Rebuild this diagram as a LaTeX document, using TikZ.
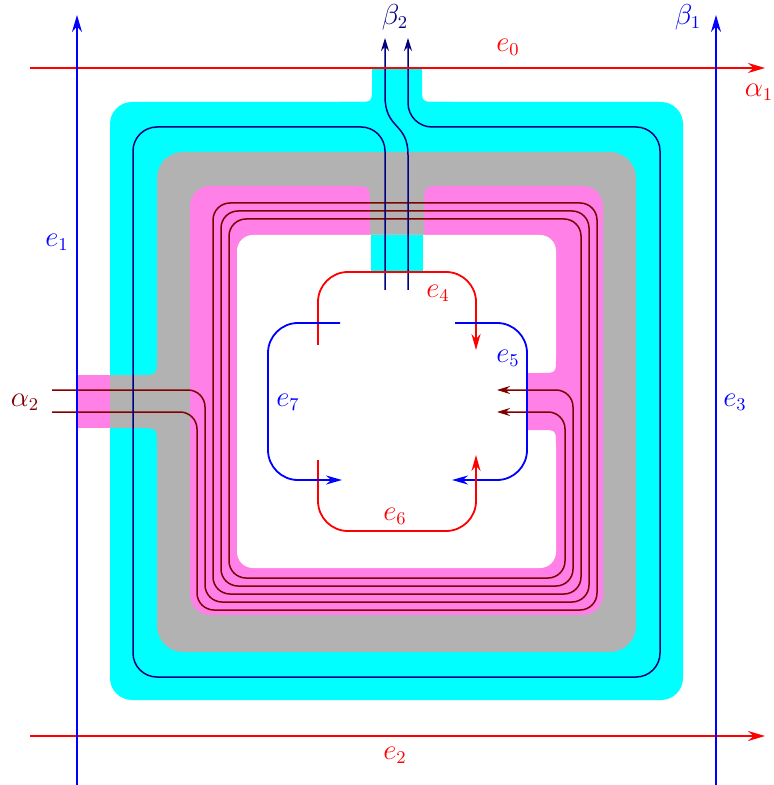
\documentclass[tikz,border=0pt]{standalone}
\usepackage{tikz}
\usetikzlibrary{arrows.meta}
\definecolor{navy}{RGB}{0,0,128}
\definecolor{maroon}{RGB}{128,0,0}
\definecolor{pinkband}{RGB}{255,128,230}
\definecolor{aqua}{RGB}{0,255,255}

\begin{document}
\begin{tikzpicture}[x=0.5pt, y=-0.5pt,
	axisline/.style={line width=1pt, -{Stealth[length=8.5pt, width=5pt]}},
	strand/.style={line width=0.75pt, maroon, rounded corners=8.5pt, -{Stealth[length=6.5pt, width=4pt]}},
	ribbon/.style={line width=0.75pt, navy, rounded corners=12pt, -{Stealth[length=6.5pt, width=4pt]}},
	loopline/.style={line width=0.9pt, rounded corners=15pt, -{Stealth[length=8pt, width=4.5pt]}},
	lbl/.style={font=\fontsize{13.5}{16}\selectfont}
	]
	\useasboundingbox (0,0) rectangle (774,785);
	
	% cyan band with its top neck
	\fill[aqua, rounded corners=11pt] (110,102) rectangle (683,700);
	\fill[aqua] (340,110) -- (340,102) -- (357,102) .. controls (372,102) .. (372,87) -- (372,68)
	-- (422,68) -- (422,87) .. controls (422,102) .. (437,102) -- (454,102) -- (454,110) -- cycle;
	
	% gray band with its left neck
	\fill[black!30, rounded corners=13pt] (157,152) rectangle (636,652);
	\fill[black!30] (110,375) -- (140,375) .. controls (157,375) .. (157,358) -- (165,358)
	-- (165,445) -- (157,445) .. controls (157,428) .. (140,428) -- (110,428) -- cycle;
	
	% pink band, gap on top, notch on the right
	\fill[pinkband, rounded corners=10pt] (190,186) rectangle (603,615);
	\fill[pinkband] (77,375) rectangle (110,428);
	\fill[black!30] (352,180) -- (352,186) .. controls (370,186) .. (370,204) -- (370,235)
	-- (424,235) -- (424,204) .. controls (424,186) .. (442,186) -- (442,180) -- cycle;
	\fill[white, rounded corners=8pt] (237,235) rectangle (556,568);
	\fill[pinkband] (527,373) -- (541,373) .. controls (556,373) .. (556,358) -- (560,358)
	-- (560,445) -- (556,445) .. controls (556,430) .. (541,430) -- (527,430) -- cycle;
	\fill[aqua] (371,235) rectangle (423,272);
	
	% alpha_2 spiral
	\draw[strand] (52,412) -- (197,412) -- (197,610) -- (597,610) -- (597,203) -- (213,203)
	-- (213,594) -- (581,594) -- (581,219) -- (229,219) -- (229,578) -- (565,578) -- (565,412) -- (497,412);
	\draw[strand] (52,390) -- (205,390) -- (205,602) -- (589,602) -- (589,211) -- (221,211)
	-- (221,586) -- (573,586) -- (573,390) -- (497,390);
	
	% beta_2 ribbon
	\draw[ribbon] (385,290) -- (385,127) -- (133,127) -- (133,677) -- (660,677) -- (660,127)
	-- (408,127) -- (408,38);
	\draw[ribbon, sharp corners] (408,290) -- (408,155) .. controls (408,122) and (385,130) .. (385,96) -- (385,38);
	
	% inner loops
	\draw[loopline, red] (318,345) -- (318,272) -- (476,272) -- (476,350);
	\draw[loopline, blue] (455,323) -- (527,323) -- (527,480) -- (452,480);
	\draw[loopline, red] (318,460) -- (318,531) -- (476,531) -- (476,455);
	\draw[loopline, blue] (340,323) -- (268,323) -- (268,480) -- (342,480);
	
	% outer frame
	\draw[axisline, red] (30,68) -- (765,68);
	\draw[axisline, red] (30,736) -- (765,736);
	\draw[axisline, blue] (77,785) -- (77,15);
	\draw[axisline, blue] (716,785) -- (716,15);
	
	\node[lbl, red] (e0) at (508,47) {$e_0$};
	\node[lbl, blue] (e1) at (57,242) {$e_1$};
	\node[lbl, red] (e2) at (395,755) {$e_2$};
	\node[lbl, blue] (e3) at (735,402) {$e_3$};
	\node[lbl, red] (e4) at (438,293) {$e_4$};
	\node[lbl, blue] (e5) at (508,358) {$e_5$};
	\node[lbl, red] (e6) at (395,516) {$e_6$};
	\node[lbl, blue] (e7) at (288,402) {$e_7$};
	\node[lbl, red] (a1) at (759,92) {$\alpha_1$};
	\node[lbl, maroon] (a2) at (25,402) {$\alpha_2$};
	\node[lbl, blue] (b1) at (688,17) {$\beta_1$};
	\node[lbl, navy] (b2) at (395,17) {$\beta_2$};
\end{tikzpicture}
\end{document}
